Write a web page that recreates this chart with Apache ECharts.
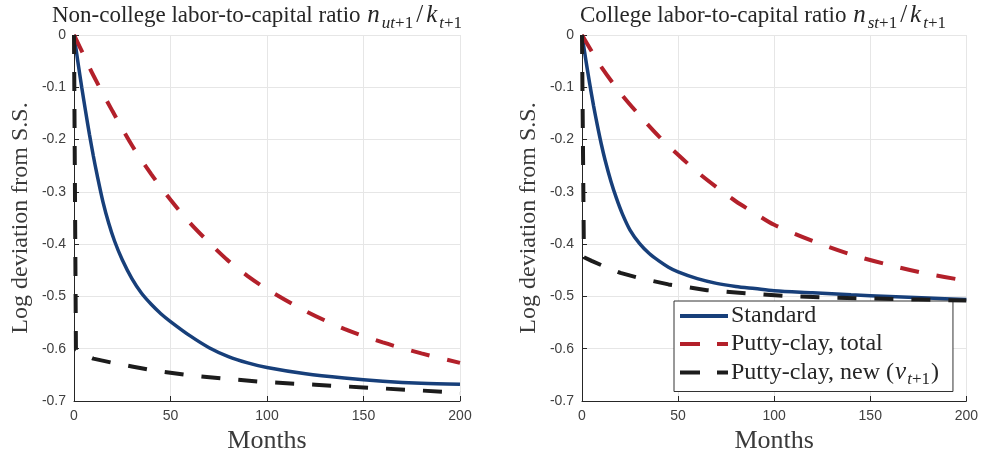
<!DOCTYPE html>
<html>
<head>
<meta charset="utf-8">
<script src="https://cdn.jsdelivr.net/npm/echarts@6/dist/echarts.min.js"></script>
<style>html,body{margin:0;padding:0;background:#fff}#c{width:981px;height:459px}</style>
</head>
<body>
<div id="c"></div>
<script>
// ---- Data ----
const xTicks = [0, 50, 100, 150, 200];
const yTicks = [0, -0.1, -0.2, -0.3, -0.4, -0.5, -0.6, -0.7];
const seriesNames = ['Standard', 'Putty-clay, total', 'Putty-clay, new'];

// Left panel: non-college
const L_std_t = [0, 2, 4, 6, 8, 10, 12, 15, 18, 21, 25, 30, 35, 40, 45, 50, 60, 70, 80, 90, 100, 120, 140, 160, 180, 200];
const L_std_v = [0, -0.051, -0.100, -0.146, -0.190, -0.231, -0.268, -0.319, -0.360, -0.394, -0.430, -0.466, -0.494, -0.515, -0.533, -0.548, -0.575, -0.598, -0.615, -0.627, -0.636, -0.648, -0.656, -0.662, -0.666, -0.668];
const L_tot_t = [0, 5, 10, 20, 30, 40, 50, 60, 70, 80, 90, 100, 120, 140, 160, 180, 200];
const L_tot_v = [0, -0.038, -0.077, -0.146, -0.211, -0.266, -0.315, -0.359, -0.397, -0.432, -0.461, -0.486, -0.528, -0.562, -0.588, -0.609, -0.627];
const L_new_t = [0, 1, 5, 10, 20, 30, 40, 60, 80, 100, 125, 150, 175, 200];
const L_new_v = [0, -0.602, -0.611, -0.619, -0.627, -0.634, -0.641, -0.651, -0.658, -0.664, -0.669, -0.674, -0.679, -0.684];

// Right panel: college
const R_std_t = [0, 2, 4, 6, 8, 10, 12, 15, 18, 21, 25, 30, 35, 40, 45, 50, 60, 70, 80, 90, 100, 120, 140, 160, 180, 200];
const R_std_v = [0, -0.048, -0.093, -0.135, -0.173, -0.208, -0.239, -0.279, -0.313, -0.342, -0.373, -0.399, -0.418, -0.432, -0.444, -0.453, -0.466, -0.475, -0.481, -0.485, -0.489, -0.493, -0.497, -0.500, -0.503, -0.506];
const R_tot_t = [0, 5, 10, 20, 30, 40, 50, 60, 70, 80, 90, 100, 120, 140, 160, 180, 200];
const R_tot_v = [0, -0.031, -0.061, -0.111, -0.154, -0.194, -0.229, -0.262, -0.291, -0.318, -0.341, -0.363, -0.394, -0.420, -0.440, -0.457, -0.470];
const R_new_t = [0, 1, 5, 10, 20, 30, 45, 65, 85, 105, 125, 150, 175, 200];
const R_new_v = [0, -0.425, -0.432, -0.440, -0.455, -0.465, -0.477, -0.488, -0.494, -0.499, -0.502, -0.504, -0.506, -0.508];

function pairs(t, v) { return t.map((x, i) => [x, v[i]]); }

const SERIF = 'Liberation Serif';
const TXT = '#262626';
const COLORS = ['#173f7a', '#b3202a', '#1c1c1c'];

const richMath = {
  it: { fontFamily: SERIF, fontStyle: 'italic', fontSize: 25, color: TXT, lineHeight: 25, padding: [0, 1, 0, 1] },
  sit: { fontFamily: SERIF, fontStyle: 'italic', fontSize: 17, color: TXT, lineHeight: 13, verticalAlign: 'top', padding: [12, 0, 0, 1] },
  s: { fontFamily: SERIF, fontSize: 17, color: TXT, lineHeight: 13, verticalAlign: 'top', padding: [12, 1, 0, 0] },
  r: { fontFamily: SERIF, fontSize: 25, color: TXT, lineHeight: 25, padding: [0, 2, 0, 2] }
};
const richLegend = {
  it: { fontFamily: SERIF, fontStyle: 'italic', fontSize: 25, color: TXT, lineHeight: 24, padding: [0, 1, 0, 1] },
  sit: { fontFamily: SERIF, fontStyle: 'italic', fontSize: 17, color: TXT, lineHeight: 13, verticalAlign: 'top', padding: [11, 0, 0, 0] },
  s: { fontFamily: SERIF, fontSize: 17, color: TXT, lineHeight: 13, verticalAlign: 'top', padding: [11, 1, 0, 0] }
};

function xAxis(gi) {
  return {
    type: 'value', gridIndex: gi, min: 0, max: 200, interval: 50,
    name: 'Months', nameLocation: 'middle', nameGap: 27,
    nameTextStyle: { fontFamily: SERIF, fontSize: 26, color: '#3a3a3a' },
    axisLine: { show: true, onZero: false, lineStyle: { color: TXT, width: 1 } },
    axisTick: { show: true, inside: true, length: 5, lineStyle: { color: TXT } },
    axisLabel: { fontFamily: 'Liberation Sans', fontSize: 14, color: '#404040', margin: 8 },
    splitLine: { show: true, lineStyle: { color: '#e6e6e6', width: 1 } }
  };
}
function yAxis(gi) {
  return {
    type: 'value', gridIndex: gi, min: -0.7, max: 0, interval: 0.1,
    name: 'Log deviation from S.S.', nameLocation: 'middle', nameGap: 41, nameRotate: 90,
    nameTextStyle: { fontFamily: SERIF, fontSize: 24, color: '#3a3a3a' },
    axisLine: { show: true, onZero: false, lineStyle: { color: TXT, width: 1 } },
    axisTick: { show: true, inside: true, length: 5, lineStyle: { color: TXT } },
    axisLabel: { fontFamily: 'Liberation Sans', fontSize: 14, color: '#404040', margin: 8,
      formatter: v => (Math.abs(v) < 1e-9 ? '0' : v.toFixed(1)) },
    splitLine: { show: true, lineStyle: { color: '#e6e6e6', width: 1 } }
  };
}
function line(name, data, gi, idx) {
  const dashed = idx > 0;
  return {
    type: 'line', name: name, xAxisIndex: gi, yAxisIndex: gi, data: data,
    showSymbol: false, symbol: 'none', clip: false,
    smooth: idx === 2 ? false : 0.3,
    lineStyle: { color: COLORS[idx], width: dashed ? 4 : 3.5, type: dashed ? [19, 18] : 'solid', cap: 'butt' },
    itemStyle: { color: COLORS[idx] },
    emphasis: { disabled: true }, z: 2 + idx
  };
}

const ICON_SOLID = 'path://M0,0h48v4h-48z';
const ICON_DASH = 'path://M0,0h20v4h-20zM37,0h11v4h-11z';

const chart = echarts.init(document.getElementById('c'), null, { renderer: 'canvas' });
chart.setOption({
  animation: false,
  backgroundColor: '#fff',
  title: [
    { text: 'Non-college labor-to-capital ratio {it|n}{sit|ut}{s|+1}{r|/}{it|k}{sit|t}{s|+1}', left: 52, top: 3, padding: 0,
      textStyle: { fontFamily: SERIF, fontSize: 23, fontWeight: 'normal', color: TXT, lineHeight: 25, rich: richMath } },
    { text: 'College labor-to-capital ratio {it|n}{sit|st}{s|+1}{r|/}{it|k}{sit|t}{s|+1}', left: 580, top: 3, padding: 0,
      textStyle: { fontFamily: SERIF, fontSize: 23, fontWeight: 'normal', color: TXT, lineHeight: 25, rich: richMath } }
  ],
  grid: [
    { left: 74, right: 521, top: 35, bottom: 57 },
    { left: 582, right: 14, top: 35, bottom: 57 }
  ],
  xAxis: [xAxis(0), xAxis(1)],
  yAxis: [yAxis(0), yAxis(1)],
  legend: {
    data: [
      { name: seriesNames[0], icon: ICON_SOLID },
      { name: seriesNames[1], icon: ICON_DASH },
      { name: seriesNames[2], icon: ICON_DASH }
    ],
    orient: 'vertical', left: 674, top: 301,
    itemWidth: 48, itemHeight: 4, itemGap: 4,
    padding: [3, 14, 3, 6],
    backgroundColor: '#fff', borderColor: '#333', borderWidth: 1, borderRadius: 0,
    selectedMode: false,
    textStyle: { fontFamily: SERIF, fontSize: 24, color: TXT, lineHeight: 24, padding: [0, 0, 0, -2], rich: richLegend },
    formatter: n => (n === 'Putty-clay, new' ? 'Putty-clay, new ({it|v}{sit|t}{s|+1})' : n)
  },
  series: [
    line(seriesNames[0], pairs(L_std_t, L_std_v), 0, 0),
    line(seriesNames[1], pairs(L_tot_t, L_tot_v), 0, 1),
    line(seriesNames[2], pairs(L_new_t, L_new_v), 0, 2),
    line(seriesNames[0], pairs(R_std_t, R_std_v), 1, 0),
    line(seriesNames[1], pairs(R_tot_t, R_tot_v), 1, 1),
    line(seriesNames[2], pairs(R_new_t, R_new_v), 1, 2)
  ]
});
</script>
</body>
</html>
